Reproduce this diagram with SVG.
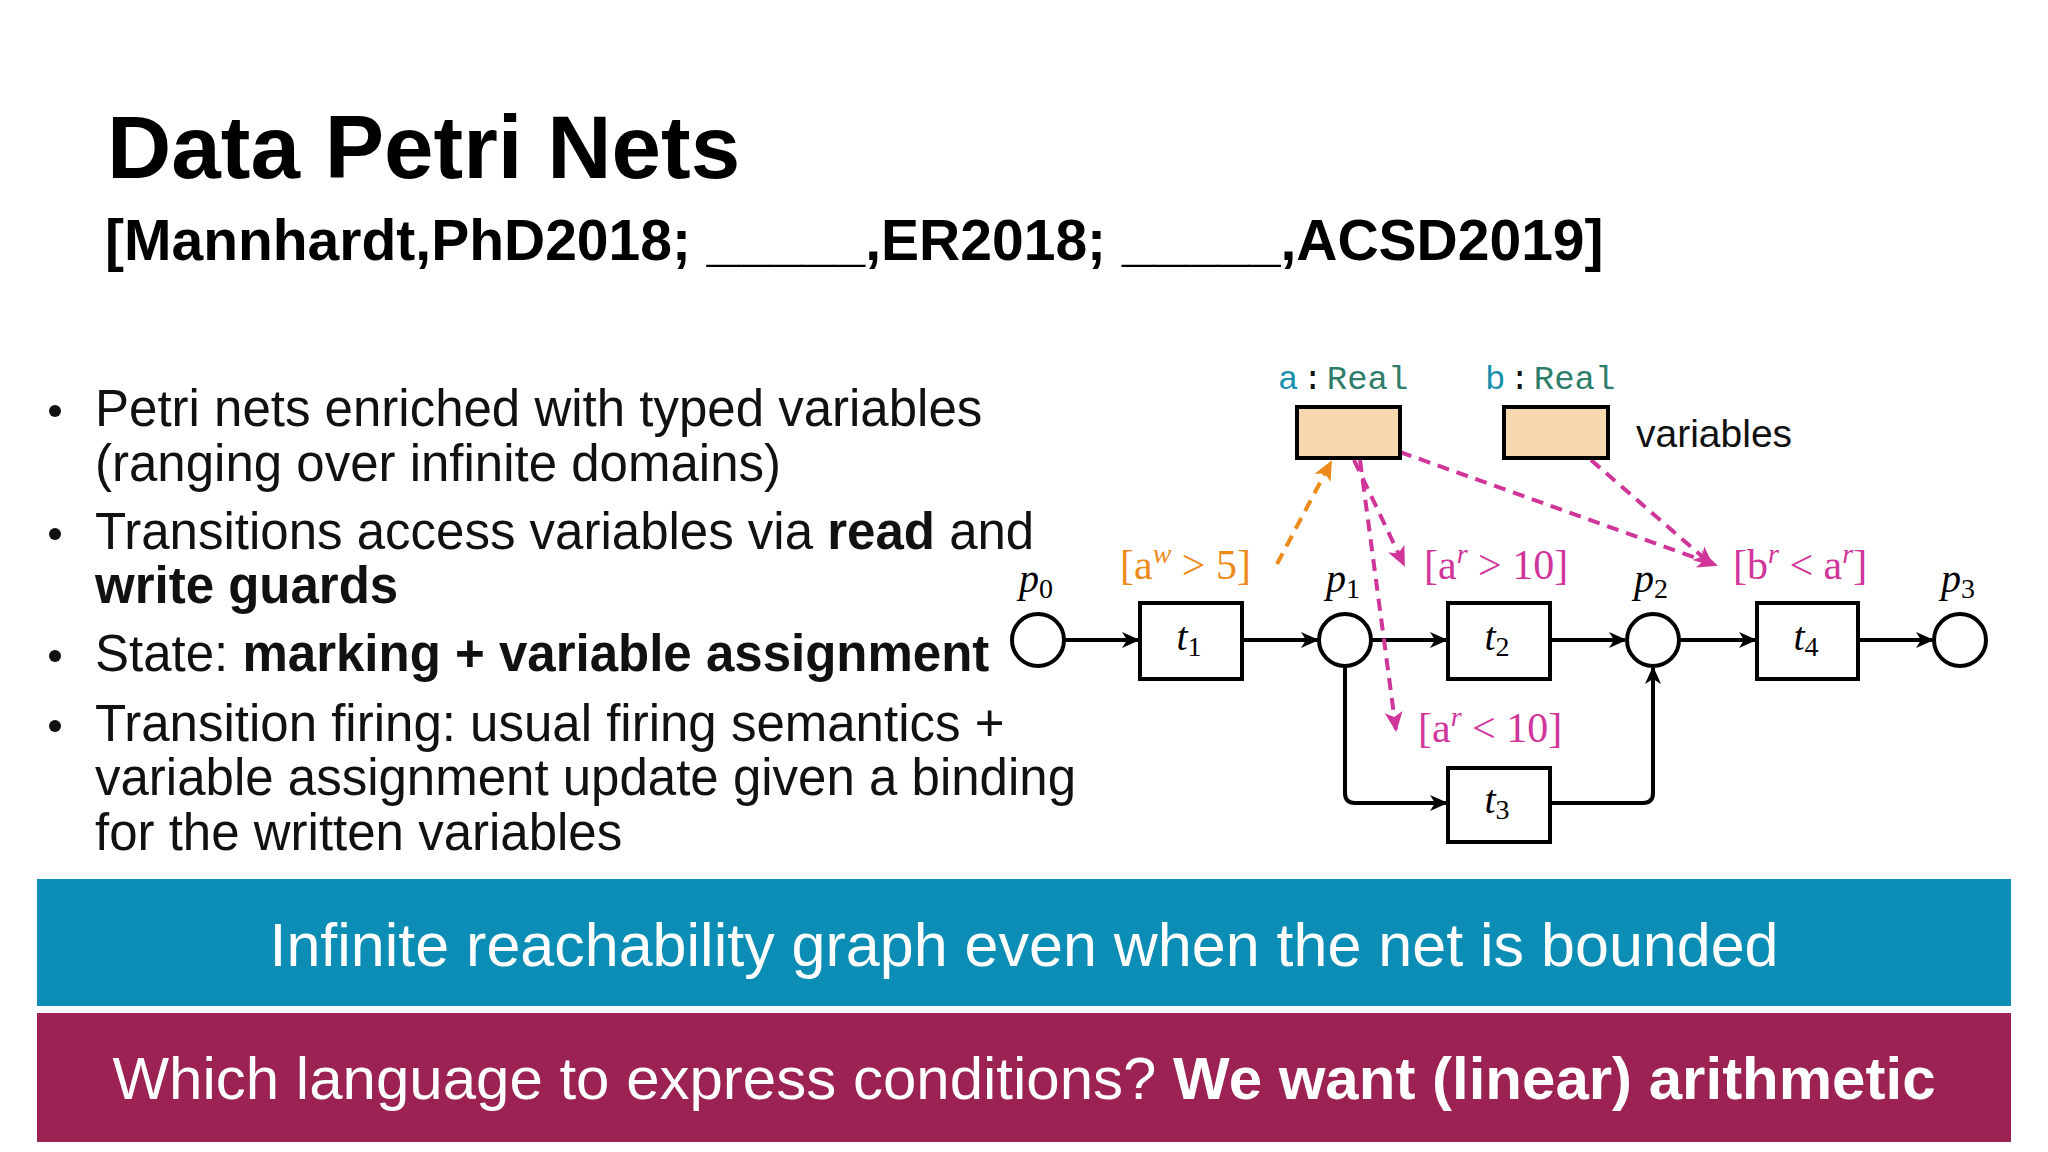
<svg xmlns="http://www.w3.org/2000/svg" width="2048" height="1152" viewBox="0 0 2048 1152">
<defs>
<style>
.s{font-family:"Liberation Sans",Arial,sans-serif}
.b{font-size:51px;fill:#111}
.pl{fill:#fff;stroke:#000;stroke-width:4}
.tr{fill:#fff;stroke:#000;stroke-width:4}
.var{fill:#f8d8b0;stroke:#000;stroke-width:4}
.m{font-family:"Liberation Serif","DejaVu Serif",serif;font-style:italic;font-size:40px}
.g{font-family:"Liberation Serif","DejaVu Serif",serif;font-size:42px}
.arc{fill:none;stroke:#000;stroke-width:4}
.dm{fill:none;stroke:#d0359a;stroke-width:4;stroke-dasharray:12,8}
.do{fill:none;stroke:#ee8a1a;stroke-width:4;stroke-dasharray:12,8}
</style>
<marker id="ah" markerWidth="18" markerHeight="18" refX="16" refY="9" orient="auto" markerUnits="userSpaceOnUse" viewBox="0 0 18 18"><path d="M0,1 L18,9 L0,17 L5,9 z" fill="#000"/></marker>
<marker id="am" markerWidth="22" markerHeight="22" refX="18" refY="11" orient="auto" markerUnits="userSpaceOnUse" viewBox="0 0 22 22"><path d="M0,2 L20,11 L0,20 L5,11 z" fill="#d0359a"/></marker>
<marker id="ao" markerWidth="22" markerHeight="22" refX="18" refY="11" orient="auto" markerUnits="userSpaceOnUse" viewBox="0 0 22 22"><path d="M0,2 L20,11 L0,20 L5,11 z" fill="#ee8a1a"/></marker>
</defs>
<rect width="2048" height="1152" fill="#fff"/>
<text class="s" x="107" y="178" font-size="89" font-weight="bold">Data Petri Nets</text>
<text class="s" x="105" y="260" font-size="57" font-weight="bold">[Mannhardt,PhD2018; _____,ER2018; _____,ACSD2019]</text>
<g id="bullets" class="s b">
<circle cx="55" cy="411" r="6" fill="#111"/>
<text x="95" y="426">Petri nets enriched with typed variables</text>
<text x="95" y="481">(ranging over infinite domains)</text>
<circle cx="55" cy="534" r="6" fill="#111"/>
<text x="95" y="549">Transitions access variables via <tspan font-weight="bold">read</tspan> and</text>
<text x="95" y="603" font-weight="bold">write guards</text>
<circle cx="55" cy="656" r="6" fill="#111"/>
<text x="95" y="671">State: <tspan font-weight="bold">marking + variable assignment</tspan></text>
<circle cx="55" cy="726" r="6" fill="#111"/>
<text x="95" y="741">Transition firing: usual firing semantics +</text>
<text x="95" y="795">variable assignment update given a binding</text>
<text x="95" y="850">for the written variables</text>
</g>
<g id="connectors">
<line class="arc" x1="1064" y1="640" x2="1138" y2="640" marker-end="url(#ah)"/>
<line class="arc" x1="1242" y1="640" x2="1317" y2="640" marker-end="url(#ah)"/>
<line class="arc" x1="1371" y1="640" x2="1446" y2="640" marker-end="url(#ah)"/>
<line class="arc" x1="1550" y1="640" x2="1625" y2="640" marker-end="url(#ah)"/>
<line class="arc" x1="1679" y1="640" x2="1755" y2="640" marker-end="url(#ah)"/>
<line class="arc" x1="1858" y1="640" x2="1932" y2="640" marker-end="url(#ah)"/>
<path class="arc" d="M1345,666 V793 Q1345,803 1355,803 H1446" marker-end="url(#ah)"/>
<path class="arc" d="M1550,803 H1643 Q1653,803 1653,793 V668" marker-end="url(#ah)"/>
<line class="do" x1="1277" y1="564" x2="1331" y2="462" marker-end="url(#ao)"/>
<line class="dm" x1="1354" y1="460" x2="1404" y2="565" marker-end="url(#am)"/>
<line class="dm" x1="1360" y1="460" x2="1396" y2="730" marker-end="url(#am)"/>
<line class="dm" x1="1400" y1="452" x2="1716" y2="565" marker-end="url(#am)"/>
<line class="dm" x1="1591" y1="460" x2="1712" y2="565" marker-end="url(#am)"/>
</g>
<g id="p0"><circle class="pl" cx="1038" cy="640" r="26"/><text class="m" x="1036" y="592" text-anchor="middle">p<tspan font-style="normal" font-size="28" dy="6">0</tspan></text></g>
<g id="p1"><circle class="pl" cx="1345" cy="640" r="26"/><text class="m" x="1343" y="592" text-anchor="middle">p<tspan font-style="normal" font-size="28" dy="6">1</tspan></text></g>
<g id="p2"><circle class="pl" cx="1653" cy="640" r="26"/><text class="m" x="1651" y="592" text-anchor="middle">p<tspan font-style="normal" font-size="28" dy="6">2</tspan></text></g>
<g id="p3"><circle class="pl" cx="1960" cy="640" r="26"/><text class="m" x="1958" y="592" text-anchor="middle">p<tspan font-style="normal" font-size="28" dy="6">3</tspan></text></g>
<g id="t1"><rect class="tr" x="1140" y="603" width="102" height="76"/><text class="m" x="1189" y="650" text-anchor="middle">t<tspan font-style="normal" font-size="28" dy="6">1</tspan></text></g>
<g id="t2"><rect class="tr" x="1448" y="603" width="102" height="76"/><text class="m" x="1497" y="650" text-anchor="middle">t<tspan font-style="normal" font-size="28" dy="6">2</tspan></text></g>
<g id="t4"><rect class="tr" x="1757" y="603" width="101" height="76"/><text class="m" x="1806" y="650" text-anchor="middle">t<tspan font-style="normal" font-size="28" dy="6">4</tspan></text></g>
<g id="t3"><rect class="tr" x="1448" y="768" width="102" height="74"/><text class="m" x="1497" y="813" text-anchor="middle">t<tspan font-style="normal" font-size="28" dy="6">3</tspan></text></g>
<g id="var-a"><rect class="var" x="1297" y="407" width="103" height="51"/><text x="1278" y="389" font-family="Liberation Mono,DejaVu Sans Mono,monospace" font-size="34"><tspan fill="#1a8fb0">a</tspan><tspan fill="#111" dx="4">:</tspan><tspan fill="#2e7d6a" dx="4">Real</tspan></text></g>
<g id="var-b"><rect class="var" x="1504" y="407" width="104" height="51"/><text x="1485" y="389" font-family="Liberation Mono,DejaVu Sans Mono,monospace" font-size="34"><tspan fill="#1a8fb0">b</tspan><tspan fill="#111" dx="4">:</tspan><tspan fill="#2e7d6a" dx="4">Real</tspan></text></g>
<text class="s" x="1636" y="447" font-size="39" fill="#111">variables</text>
<g id="guards">
<text class="g" x="1120" y="579" fill="#ee8a1a">[a<tspan font-style="italic" font-size="28" dy="-16">w</tspan><tspan dy="16"> &gt; 5]</tspan></text>
<text class="g" x="1424" y="579" fill="#d0359a">[a<tspan font-style="italic" font-size="28" dy="-16">r</tspan><tspan dy="16"> &gt; 10]</tspan></text>
<text class="g" x="1733" y="579" fill="#d0359a">[b<tspan font-style="italic" font-size="28" dy="-16">r</tspan><tspan dy="16"> &lt; a</tspan><tspan font-style="italic" font-size="28" dy="-16">r</tspan><tspan dy="16">]</tspan></text>
<text class="g" x="1418" y="742" fill="#d0359a">[a<tspan font-style="italic" font-size="28" dy="-16">r</tspan><tspan dy="16"> &lt; 10]</tspan></text>
</g>
<rect x="37" y="879" width="1974" height="127" fill="#0b8db5"/>
<text class="s" x="1024" y="966" font-size="61" fill="#fff" text-anchor="middle">Infinite reachability graph even when the net is bounded</text>
<rect x="37" y="1013" width="1974" height="129" fill="#9b2252"/>
<text class="s" x="1024" y="1099" font-size="60" fill="#fff" text-anchor="middle">Which language to express conditions? <tspan font-weight="bold">We want (linear) arithmetic</tspan></text>
</svg>
